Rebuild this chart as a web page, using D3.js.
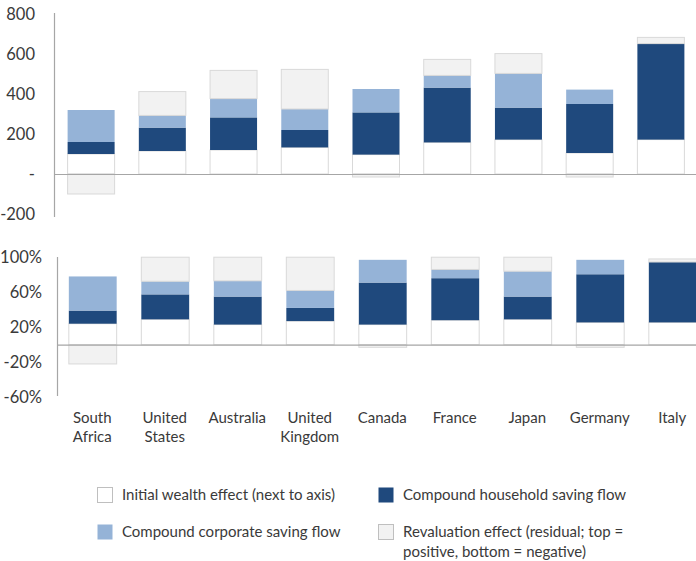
<!DOCTYPE html>
<html><head><meta charset="utf-8">
<script src="https://cdn.jsdelivr.net/npm/d3@7"></script>
<style>
html,body{margin:0;padding:0;background:#fff;}
svg{display:block;font-family:Lato, "Open Sans", sans-serif;}
</style></head>
<body>
<svg id="chart" width="696" height="561"></svg>
<script>
const categories = ["South Africa","United States","Australia","United Kingdom","Canada","France","Japan","Germany","Italy"];
const categoryLines = [["South","Africa"],["United","States"],["Australia"],["United","Kingdom"],["Canada"],["France"],["Japan"],["Germany"],["Italy"]];

// Top panel: levels
const initialTop   = [100, 115, 120, 133,  97, 158, 172, 105, 172];
const householdTop = [ 60, 117, 163,  87, 211, 274, 160, 245, 480];
const corporateTop = [160,  61,  94, 105, 117,  61, 171,  72,  -5];
const revalTop     = [-100,119, 141, 198, -15,  80,  99, -15,  31];

// Bottom panel: shares (%)
const initialShare   = [24, 29,   23, 27, 23, 28, 29, 25.5, 25.5];
const householdShare = [15, 28.5, 32, 15, 48, 48, 26, 55,   69];
const corporateShare = [39, 15,   18, 20, 26, 10, 29, 16.5, 0];
const revalShare     = [-22,27.5, 27, 38, -3, 14, 16, -3,   3.5];

const topTicks = [800, 600, 400, 200, 0, -200];
const bottomTicks = [100, 60, 20, -20, -60];

const seriesKeys = ["initial","household","corporate","reval"];
const seriesNames = ["Initial wealth effect (next to axis)","Compound household saving flow","Compound corporate saving flow","Revaluation effect (residual; top =|positive, bottom = negative)"];
const colors = {initial:"#ffffff", household:"#1f497d", corporate:"#95b3d7", reval:"#f2f2f2"};
const strokes = {initial:"#d9d9d9", household:"none", corporate:"none", reval:"#d9d9d9"};

const svg = d3.select("#chart");
const textColor = "#3a3a3a";

function panel(rows, yDomain, yRange, xRange, ticks, fmt, axisX, labelRight, axisTop, axisBottom){
  const x = d3.scaleBand().domain(categories).range(xRange).paddingInner(0.34).paddingOuter(0.17);
  const y = d3.scaleLinear().domain(yDomain).range(yRange);
  const stack = d3.stack().keys(seriesKeys).offset(d3.stackOffsetDiverging);
  const series = stack(rows);
  const g = svg.append("g");
  g.selectAll("g.s").data(series).join("g")
    .attr("fill", d => colors[d.key])
    .attr("stroke", d => strokes[d.key])
    .attr("stroke-width", 1)
    .selectAll("rect").data(d => d.filter(p => p[1] !== p[0])).join("rect")
      .attr("x", d => x(d.data.cat) + 0.5)
      .attr("width", x.bandwidth())
      .attr("y", d => y(Math.max(d[0], d[1])))
      .attr("height", d => Math.abs(y(d[0]) - y(d[1])));
  // zero line
  g.append("line").attr("x1", axisX).attr("x2", 696).attr("y1", y(0)+0.5).attr("y2", y(0)+0.5)
    .attr("stroke", "#a6a6a6").attr("stroke-width", 1.2);
  // y axis line
  g.append("line").attr("x1", axisX+0.5).attr("x2", axisX+0.5).attr("y1", axisTop).attr("y2", axisBottom)
    .attr("stroke", "#a6a6a6").attr("stroke-width", 1.2);
  // tick labels
  g.selectAll("text.t").data(ticks).join("text")
    .attr("x", labelRight).attr("y", d => y(d)).attr("dy", "0.35em")
    .attr("text-anchor", "end").attr("fill", textColor)
    .style("font-size", "16.5px").text(fmt);
  return x;
}

const rowsTop = categories.map((c,i) => ({cat:c, initial:initialTop[i], household:householdTop[i], corporate:corporateTop[i], reval:revalTop[i]}));
const rowsBottom = categories.map((c,i) => ({cat:c, initial:initialShare[i], household:householdShare[i], corporate:corporateShare[i], reval:revalShare[i]}));

panel(rowsTop, [-200, 800], [214, 14], [55, 696], topTicks, d => d === 0 ? "-" : d, 54, 35, 13, 217);
const xb = panel(rowsBottom, [-60, 100], [344.7 + 52.5, 344.7 - 87.5], [56, 708.5], bottomTicks, d => d + "%", 57, 42, 257, 396);

// category labels
const lab = svg.append("g").attr("fill", textColor).style("font-size", "15px").attr("text-anchor", "middle");
categories.forEach((c,i) => {
  const t = lab.append("text").attr("x", xb(c) + xb.bandwidth()/2).attr("y", 423);
  categoryLines[i].forEach((ln,j) => t.append("tspan").attr("x", xb(c) + xb.bandwidth()/2).attr("dy", j === 0 ? 0 : 19).text(ln));
});

// legend
const legendPos = [[97,487],[378,487],[97,524],[378,524]];
const legendOrder = ["initial","household","corporate","reval"];
const lg = svg.append("g").style("font-size", "15px").attr("fill", textColor);
legendOrder.forEach((k,i) => {
  const [lx,ly] = legendPos[i];
  lg.append("rect").attr("x", lx+0.5).attr("y", ly+0.5).attr("width", 15).attr("height", 15)
    .attr("fill", colors[k]).attr("stroke", k === "initial" || k === "reval" ? "#bfbfbf" : "none");
  const t = lg.append("text").attr("x", lx + 25).attr("y", ly + 8).attr("dy", "0.35em");
  seriesNames[i].split("|").forEach((ln,j) => t.append("tspan").attr("x", lx + 25).attr("dy", j === 0 ? "0.35em" : 20).text(ln));
});
</script>
</body></html>
